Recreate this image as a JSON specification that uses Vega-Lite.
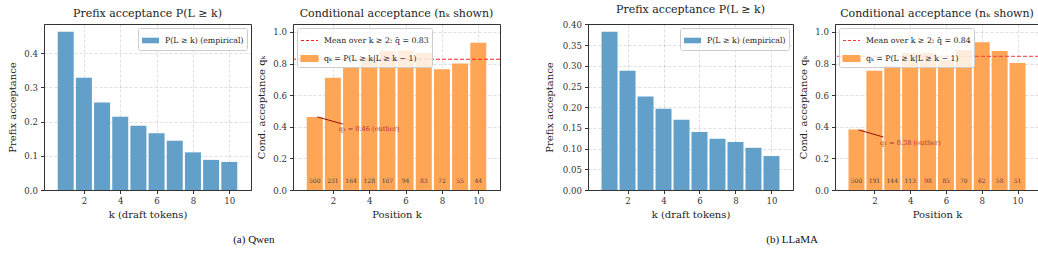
{
  "$schema": "https://vega.github.io/schema/vega-lite/v6.json",
  "padding": {"left": 6, "top": 3, "right": 5, "bottom": 4},
  "background": "white",
  "config": {
    "font": "DejaVu Serif",
    "view": {"stroke": "#333333", "strokeWidth": 1},
    "axis": {
      "labelFont": "DejaVu Serif", "labelFontSize": 8.6, "labelColor": "#333333", "labelOverlap": false,
      "titleFont": "DejaVu Serif", "titleFontSize": 10, "titleFontWeight": "normal", "titleColor": "#222222",
      "domainColor": "#333333", "tickColor": "#333333", "tickSize": 3.5, "labelPadding": 3,
      "grid": true, "gridColor": "#000000", "gridOpacity": 0.13, "gridDash": [3, 2], "titlePadding": 4
    },
    "axisY": {"minExtent": 23, "maxExtent": 23},
    "title": {"font": "DejaVu Serif", "fontSize": 11, "fontWeight": "normal", "color": "#222222", "offset": 5},
    "legend": {
      "labelFont": "DejaVu Serif", "labelFontSize": 7.8, "labelColor": "#222222",
      "fillColor": "rgba(255,255,255,0.8)", "strokeColor": "#cccccc", "cornerRadius": 2,
      "padding": 3, "rowPadding": 4, "symbolSize": 289, "labelOffset": 5, "title": null
    }
  },
  "datasets": {
    "qwen": [
      {"k": 1, "p": 0.462, "q": 0.462, "n": 500},
      {"k": 2, "p": 0.328, "q": 0.710, "n": 231},
      {"k": 3, "p": 0.256, "q": 0.780, "n": 164},
      {"k": 4, "p": 0.214, "q": 0.836, "n": 128},
      {"k": 5, "p": 0.188, "q": 0.879, "n": 107},
      {"k": 6, "p": 0.166, "q": 0.883, "n": 94},
      {"k": 7, "p": 0.144, "q": 0.867, "n": 83},
      {"k": 8, "p": 0.110, "q": 0.764, "n": 72},
      {"k": 9, "p": 0.088, "q": 0.800, "n": 55},
      {"k": 10, "p": 0.082, "q": 0.932, "n": 44}
    ],
    "llama": [
      {"k": 1, "p": 0.382, "q": 0.382, "n": 500},
      {"k": 2, "p": 0.288, "q": 0.754, "n": 191},
      {"k": 3, "p": 0.226, "q": 0.785, "n": 144},
      {"k": 4, "p": 0.196, "q": 0.867, "n": 113},
      {"k": 5, "p": 0.170, "q": 0.867, "n": 98},
      {"k": 6, "p": 0.140, "q": 0.824, "n": 85},
      {"k": 7, "p": 0.124, "q": 0.886, "n": 70},
      {"k": 8, "p": 0.116, "q": 0.935, "n": 62},
      {"k": 9, "p": 0.102, "q": 0.879, "n": 58},
      {"k": 10, "p": 0.082, "q": 0.804, "n": 51}
    ],
    "qwen_ann": [
      {"mean": 0.827, "ax": 1.15, "ay": 0.462, "bx": 2.55, "by": 0.417, "tx": 2.32, "ty": 0.383, "label": "q₁ = 0.46 (outlier)"}
    ],
    "llama_ann": [
      {"mean": 0.845, "ax": 1.12, "ay": 0.380, "bx": 2.51, "by": 0.335, "tx": 2.32, "ty": 0.298, "label": "q₁ = 0.38 (outlier)"}
    ]
  },
  "spacing": 42,
  "resolve": {"scale": {"x": "independent", "y": "independent", "color": "independent"}, "legend": {"color": "independent"}},
  "hconcat": [
    {
      "title": {"text": "(a) Qwen", "orient": "bottom", "anchor": "middle", "font": "Liberation Serif", "fontSize": 11, "offset": 14, "color": "#111111"},
      "spacing": 3,
      "resolve": {"scale": {"x": "independent", "y": "independent", "color": "independent"}, "legend": {"color": "independent"}},
      "hconcat": [
        {
          "width": 207, "height": 166,
          "title": "Prefix acceptance P(L ≥ k)",
          "data": {"name": "qwen"},
          "mark": {"type": "bar", "size": 16},
          "encoding": {
            "x": {"field": "k", "type": "quantitative", "scale": {"domain": [0.08, 10.92], "nice": false, "zero": false}, "axis": {"values": [2, 4, 6, 8, 10], "title": "k (draft tokens)"}},
            "y": {"field": "p", "type": "quantitative", "scale": {"domain": [0, 0.485], "nice": false}, "axis": {"values": [0, 0.1, 0.2, 0.3, 0.4], "format": ".1f", "title": "Prefix acceptance"}},
            "color": {"datum": "emp", "scale": {"domain": ["emp"], "range": ["#62a0ca"]},
              "legend": {"orient": "top-right", "offset": 4, "labelExpr": "'P(L ≥ k) (empirical)'",
                "encode": {"symbols": {"update": {"shape": {"value": "M-1,-0.33H1V0.33H-1Z"}, "fill": {"value": "#62a0ca"}, "stroke": {"value": "transparent"}}}}}}
          }
        },
        {
          "width": 207, "height": 166,
          "title": "Conditional acceptance (nₖ shown)",
          "layer": [
            {
              "data": {"name": "qwen"},
              "mark": {"type": "bar", "size": 16},
              "encoding": {
                "x": {"field": "k", "type": "quantitative", "scale": {"domain": [0.08, 10.92], "nice": false, "zero": false}, "axis": {"values": [2, 4, 6, 8, 10], "title": "Position k"}},
                "y": {"field": "q", "type": "quantitative", "scale": {"domain": [0, 1.05], "nice": false}, "axis": {"values": [0, 0.2, 0.4, 0.6, 0.8, 1.0], "format": ".1f", "title": "Cond. acceptance qₖ"}},
                "color": {"datum": "q", "scale": {"domain": ["mean", "q"], "range": ["#ff1a1a", "#ffa556"]},
                  "legend": {"orient": "top-left", "offset": 4,
                    "labelExpr": "datum.value === 'mean' ? 'Mean over k ≥ 2: q̄ = 0.83' : 'qₖ = P(L ≥ k|L ≥ k − 1)'",
                    "encode": {"symbols": {"update": {
                      "shape": {"signal": "datum.value === 'mean' ? 'M-1,0H1' : 'M-1,-0.33H1V0.33H-1Z'"},
                      "fill": {"signal": "datum.value === 'mean' ? 'transparent' : '#ffa556'"},
                      "stroke": {"signal": "datum.value === 'mean' ? '#ff1a1a' : 'transparent'"},
                      "strokeDash": {"signal": "datum.value === 'mean' ? [3, 2] : [1, 0]"},
                      "strokeWidth": {"value": 1.2}
                    }}}}}
              }
            },
            {
              "data": {"name": "qwen"},
              "mark": {"type": "text", "fontSize": 6, "color": "#444444", "font": "DejaVu Serif"},
              "encoding": {
                "x": {"field": "k", "type": "quantitative", "axis": {"values": [2, 4, 6, 8, 10], "title": "Position k"}},
                "y": {"datum": 0.06, "type": "quantitative", "axis": {"values": [0, 0.2, 0.4, 0.6, 0.8, 1.0], "format": ".1f", "title": "Cond. acceptance qₖ"}},
                "text": {"field": "n", "type": "quantitative"}
              }
            },
            {
              "data": {"name": "qwen_ann"},
              "mark": {"type": "rule", "strokeDash": [4, 2], "strokeWidth": 1.2, "opacity": 0.95},
              "encoding": {
                "y": {"field": "mean", "type": "quantitative", "axis": {"values": [0, 0.2, 0.4, 0.6, 0.8, 1.0], "format": ".1f", "title": "Cond. acceptance qₖ"}},
                "color": {"datum": "mean"}
              }
            },
            {
              "data": {"name": "qwen_ann"},
              "mark": {"type": "rule", "color": "#8b0000", "strokeWidth": 0.9},
              "encoding": {
                "x": {"field": "ax", "type": "quantitative", "axis": {"values": [2, 4, 6, 8, 10], "title": "Position k"}},
                "y": {"field": "ay", "type": "quantitative", "axis": {"values": [0, 0.2, 0.4, 0.6, 0.8, 1.0], "format": ".1f", "title": "Cond. acceptance qₖ"}},
                "x2": {"field": "bx"},
                "y2": {"field": "by"}
              }
            },
            {
              "data": {"name": "qwen_ann"},
              "mark": {"type": "text", "align": "left", "baseline": "middle", "fontSize": 6.6, "color": "#b03030", "font": "DejaVu Serif"},
              "encoding": {
                "x": {"field": "tx", "type": "quantitative", "axis": {"values": [2, 4, 6, 8, 10], "title": "Position k"}},
                "y": {"field": "ty", "type": "quantitative", "axis": {"values": [0, 0.2, 0.4, 0.6, 0.8, 1.0], "format": ".1f", "title": "Cond. acceptance qₖ"}},
                "text": {"field": "label"}
              }
            }
          ]
        }
      ]
    },
    {
      "title": {"text": "(b) LLaMA", "orient": "bottom", "anchor": "middle", "font": "Liberation Serif", "fontSize": 11, "offset": 14, "color": "#111111"},
      "spacing": 3,
      "resolve": {"scale": {"x": "independent", "y": "independent", "color": "independent"}, "legend": {"color": "independent"}},
      "hconcat": [
        {
          "width": 205, "height": 166,
          "title": "Prefix acceptance P(L ≥ k)",
          "data": {"name": "llama"},
          "mark": {"type": "bar", "size": 16},
          "encoding": {
            "x": {"field": "k", "type": "quantitative", "scale": {"domain": [0.08, 10.92], "nice": false, "zero": false}, "axis": {"values": [2, 4, 6, 8, 10], "title": "k (draft tokens)"}},
            "y": {"field": "p", "type": "quantitative", "scale": {"domain": [0, 0.401], "nice": false}, "axis": {"values": [0, 0.05, 0.1, 0.15, 0.2, 0.25, 0.3, 0.35, 0.4], "format": ".2f", "title": "Prefix acceptance", "minExtent": 29.5, "maxExtent": 29.5}},
            "color": {"datum": "emp", "scale": {"domain": ["emp"], "range": ["#62a0ca"]},
              "legend": {"orient": "top-right", "offset": 4, "labelExpr": "'P(L ≥ k) (empirical)'",
                "encode": {"symbols": {"update": {"shape": {"value": "M-1,-0.33H1V0.33H-1Z"}, "fill": {"value": "#62a0ca"}, "stroke": {"value": "transparent"}}}}}}
          }
        },
        {
          "width": 204, "height": 166,
          "title": "Conditional acceptance (nₖ shown)",
          "layer": [
            {
              "data": {"name": "llama"},
              "mark": {"type": "bar", "size": 16},
              "encoding": {
                "x": {"field": "k", "type": "quantitative", "scale": {"domain": [0.08, 10.92], "nice": false, "zero": false}, "axis": {"values": [2, 4, 6, 8, 10], "title": "Position k"}},
                "y": {"field": "q", "type": "quantitative", "scale": {"domain": [0, 1.05], "nice": false}, "axis": {"values": [0, 0.2, 0.4, 0.6, 0.8, 1.0], "format": ".1f", "title": "Cond. acceptance qₖ"}},
                "color": {"datum": "q", "scale": {"domain": ["mean", "q"], "range": ["#f03c3c", "#ffa556"]},
                  "legend": {"orient": "top-left", "offset": 4,
                    "labelExpr": "datum.value === 'mean' ? 'Mean over k ≥ 2: q̄ = 0.84' : 'qₖ = P(L ≥ k|L ≥ k − 1)'",
                    "encode": {"symbols": {"update": {
                      "shape": {"signal": "datum.value === 'mean' ? 'M-1,0H1' : 'M-1,-0.33H1V0.33H-1Z'"},
                      "fill": {"signal": "datum.value === 'mean' ? 'transparent' : '#ffa556'"},
                      "stroke": {"signal": "datum.value === 'mean' ? '#f06060' : 'transparent'"},
                      "strokeDash": {"signal": "datum.value === 'mean' ? [3, 2] : [1, 0]"},
                      "strokeWidth": {"value": 1.2}
                    }}}}}
              }
            },
            {
              "data": {"name": "llama"},
              "mark": {"type": "text", "fontSize": 6, "color": "#444444", "font": "DejaVu Serif"},
              "encoding": {
                "x": {"field": "k", "type": "quantitative", "axis": {"values": [2, 4, 6, 8, 10], "title": "Position k"}},
                "y": {"datum": 0.06, "type": "quantitative", "axis": {"values": [0, 0.2, 0.4, 0.6, 0.8, 1.0], "format": ".1f", "title": "Cond. acceptance qₖ"}},
                "text": {"field": "n", "type": "quantitative"}
              }
            },
            {
              "data": {"name": "llama_ann"},
              "mark": {"type": "rule", "strokeDash": [4, 2], "strokeWidth": 1.2, "opacity": 0.8},
              "encoding": {
                "y": {"field": "mean", "type": "quantitative", "axis": {"values": [0, 0.2, 0.4, 0.6, 0.8, 1.0], "format": ".1f", "title": "Cond. acceptance qₖ"}},
                "color": {"datum": "mean"}
              }
            },
            {
              "data": {"name": "llama_ann"},
              "mark": {"type": "rule", "color": "#8b0000", "strokeWidth": 0.9},
              "encoding": {
                "x": {"field": "ax", "type": "quantitative", "axis": {"values": [2, 4, 6, 8, 10], "title": "Position k"}},
                "y": {"field": "ay", "type": "quantitative", "axis": {"values": [0, 0.2, 0.4, 0.6, 0.8, 1.0], "format": ".1f", "title": "Cond. acceptance qₖ"}},
                "x2": {"field": "bx"},
                "y2": {"field": "by"}
              }
            },
            {
              "data": {"name": "llama_ann"},
              "mark": {"type": "text", "align": "left", "baseline": "middle", "fontSize": 6.6, "color": "#b03030", "font": "DejaVu Serif"},
              "encoding": {
                "x": {"field": "tx", "type": "quantitative", "axis": {"values": [2, 4, 6, 8, 10], "title": "Position k"}},
                "y": {"field": "ty", "type": "quantitative", "axis": {"values": [0, 0.2, 0.4, 0.6, 0.8, 1.0], "format": ".1f", "title": "Cond. acceptance qₖ"}},
                "text": {"field": "label"}
              }
            }
          ]
        }
      ]
    }
  ]
}
